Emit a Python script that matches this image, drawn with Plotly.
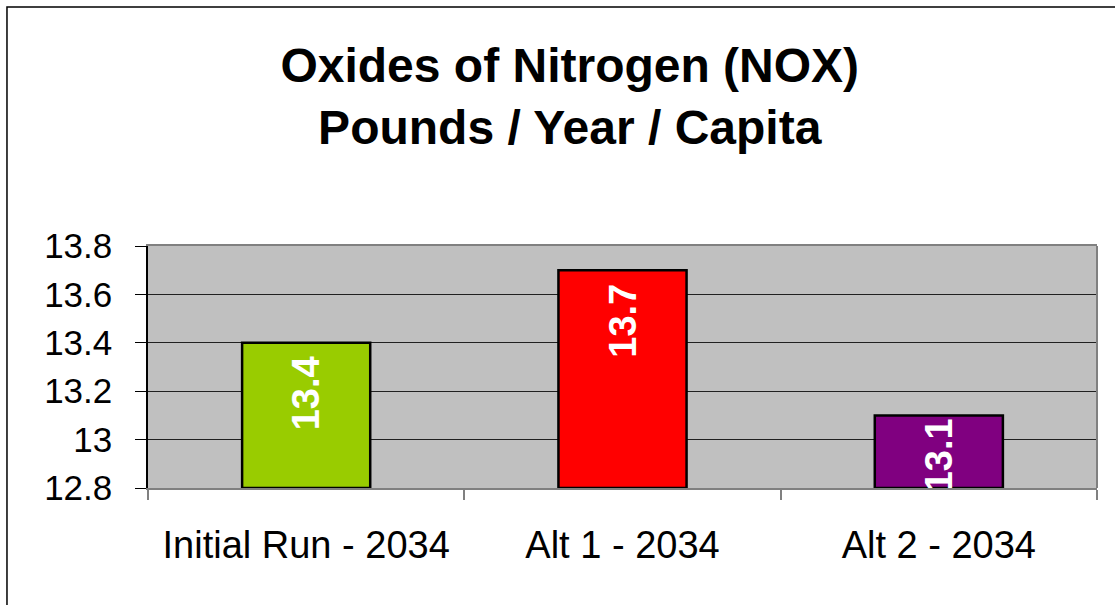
import plotly.graph_objects as go

# data
scenarios = ["Initial Run - 2034", "Alt 1 - 2034", "Alt 2 - 2034"]
nox_per_capita = [13.4, 13.7, 13.1]
bar_colors = ["#99CC00", "#FF0000", "#800080"]
axis_min = 12.8

FONT = "Liberation Sans, Arial, sans-serif"

trace = go.Bar(
    x=scenarios,
    y=[v - axis_min for v in nox_per_capita],
    base=axis_min,
    marker=dict(color=bar_colors, line=dict(color="black", width=2.5)),
    text=[str(v) for v in nox_per_capita],
    # trailing nbsp pushes the rotated label a little down from the bar top;
    # the short last bar has no room for it
    texttemplate=["%{text}\u00a0", "%{text}\u00a0", "%{text}"],
    textposition="inside",
    insidetextanchor="end",
    textangle=-90,
    textfont=dict(family=FONT, size=38, color="white", weight="bold"),
    cliponaxis=True,
    hoverinfo="x+text",
)

fig = go.Figure(data=[trace])

fig.update_layout(
    width=1115,
    height=605,
    margin=dict(l=148, r=18, t=246, b=117),
    paper_bgcolor="white",
    plot_bgcolor="#C0C0C0",
    bargap=0.595,
    showlegend=False,
    uniformtext=dict(minsize=38, mode="show"),
    title=dict(
        text="<b>Oxides of Nitrogen (NOX)<br>Pounds / Year / Capita</b>",
        x=0.511,
        xanchor="center",
        y=0.865,
        yanchor="bottom",
        yref="container",
        font=dict(family=FONT, size=48, color="black"),
    ),
    xaxis=dict(
        tickson="boundaries",
        ticks="outside",
        ticklen=10,
        tickcolor="#808080",
        tickwidth=1.5,
        showline=True,
        linecolor="#808080",
        linewidth=2,
        mirror=True,
        showgrid=False,
        tickfont=dict(family=FONT, size=38, color="black"),
        ticklabelstandoff=22,
    ),
    yaxis=dict(
        range=[12.8, 13.8],
        dtick=0.2,
        tick0=12.8,
        ticks="outside",
        ticklen=11,
        tickcolor="black",
        tickwidth=1,
        showline=True,
        linecolor="black",
        linewidth=1.5,
        showgrid=True,
        gridcolor="#202020",
        gridwidth=1,
        zeroline=False,
        tickfont=dict(family=FONT, size=35, color="black"),
        ticklabelstandoff=16,
    ),
    shapes=[
        # right border of plot area
        dict(type="line", xref="paper", yref="paper", x0=1, x1=1, y0=0, y1=1,
             line=dict(color="#808080", width=2)),
        # outer chart frame (runs off the right and bottom of the picture)
        dict(type="rect", xref="paper", yref="paper", x0=-0.1486, x1=1.2,
             y0=-1.0, y1=1.9876, line=dict(color="black", width=1.5),
             fillcolor="rgba(0,0,0,0)", layer="below"),
    ],
)

fig.write_html("out.html", config={"displayModeBar": False},
               post_script="document.body.style.margin='0';")
